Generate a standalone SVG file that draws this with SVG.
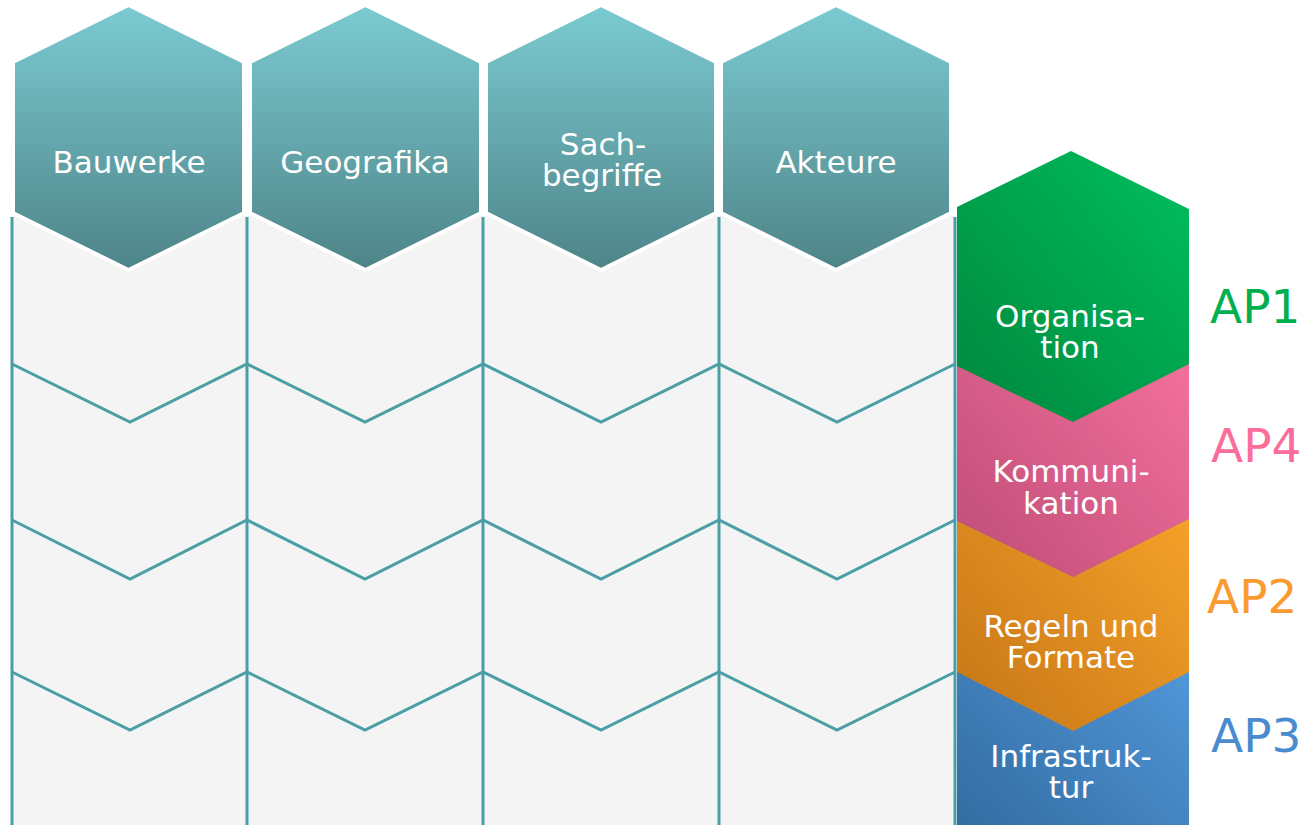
<svg xmlns="http://www.w3.org/2000/svg" width="1308" height="825" viewBox="0 0 1308 825">
<defs>
<linearGradient id="gTeal" x1="0" y1="0" x2="0" y2="1"><stop offset="0" stop-color="#7bcbd2"/><stop offset="1" stop-color="#4e8488"/></linearGradient>
<linearGradient id="gGreen" x1="1" y1="0" x2="0" y2="1"><stop offset="0" stop-color="#00bf5e"/><stop offset="1" stop-color="#00873d"/></linearGradient>
<linearGradient id="gPink" x1="1" y1="0" x2="0" y2="1"><stop offset="0" stop-color="#fa74a0"/><stop offset="1" stop-color="#bd4d77"/></linearGradient>
<linearGradient id="gOrange" x1="1" y1="0" x2="0" y2="1"><stop offset="0" stop-color="#fba72c"/><stop offset="1" stop-color="#c57516"/></linearGradient>
<linearGradient id="gBlue" x1="1" y1="0" x2="0" y2="1"><stop offset="0" stop-color="#569ee2"/><stop offset="1" stop-color="#336ca1"/></linearGradient>
</defs>
<style>
.cell{fill:#f4f4f4}
.grid{stroke:#4a9ea6;stroke-width:3;fill:none;stroke-linejoin:miter}
.hex{fill:url(#gTeal);stroke:#ffffff;stroke-width:4}
.lbl{font-family:"DejaVu Sans","Verdana",sans-serif;font-size:31px;fill:#ffffff;text-anchor:middle}
.ap{font-family:"DejaVu Sans","Verdana",sans-serif;font-size:47px}
</style>
<rect width="1308" height="825" fill="#ffffff"/>
<g id="cells">
<rect class="cell" x="12" y="216" width="943" height="609"/>
</g>
<g id="connectors">
<path class="grid" d="M12 217V825M247 217V825M483 217V825M719 217V825M955 217V825"/>
<path class="grid" d="M12 364L130 422L247 364L365 422L483 364L601 422L719 364L837 422L955 364"/>
<path class="grid" d="M12 520L130 579L247 520L365 579L483 520L601 579L719 520L837 579L955 520"/>
<path class="grid" d="M12 672L130 730L247 672L365 730L483 672L601 730L719 672L837 730L955 672"/>
</g>
<g id="bauwerke">
<polygon class="hex" points="128.5,5 244,62 244,213 128.5,270 13,213 13,62"/>
<text class="lbl" x="129" y="173">Bauwerke</text>
</g>
<g id="geografika">
<polygon class="hex" points="365.5,5 481,62 481,213 365.5,270 250,213 250,62"/>
<text class="lbl" x="365" y="173">Geografika</text>
</g>
<g id="sachbegriffe">
<polygon class="hex" points="601,5 716,62 716,213 601,270 486,213 486,62"/>
<text class="lbl" x="603" y="155">Sach-</text>
<text class="lbl" x="602" y="186">begriffe</text>
</g>
<g id="akteure">
<polygon class="hex" points="836,5 951,62 951,213 836,270 721,213 721,62"/>
<text class="lbl" x="836" y="173">Akteure</text>
</g>
<g id="infrastruktur">
<rect x="957" y="600" width="232" height="225" fill="url(#gBlue)"/>
<text class="lbl" x="1071" y="767">Infrastruk-</text>
<text class="lbl" x="1071" y="798">tur</text>
</g>
<g id="regeln">
<polygon points="957,450 1189,450 1189,672 1073,731 957,672" fill="url(#gOrange)"/>
<text class="lbl" x="1071" y="637">Regeln und</text>
<text class="lbl" x="1071" y="668">Formate</text>
</g>
<g id="kommunikation">
<polygon points="957,300 1189,300 1189,519 1073,577 957,521" fill="url(#gPink)"/>
<text class="lbl" x="1071" y="482">Kommuni-</text>
<text class="lbl" x="1071" y="514">kation</text>
</g>
<g id="organisation">
<polygon points="1071,151 1189,209 1189,364 1073,422 957,366 957,207" fill="url(#gGreen)"/>
<text class="lbl" x="1070" y="327">Organisa-</text>
<text class="lbl" x="1070" y="358">tion</text>
</g>
<g id="ap-labels">
<text class="ap" x="1210" y="323" fill="#00b050">AP1</text>
<text class="ap" x="1211" y="462" fill="#fb6e9b">AP4</text>
<text class="ap" x="1207" y="613" fill="#f99b31">AP2</text>
<text class="ap" x="1211" y="752" fill="#4a8bd0">AP3</text>
</g>
</svg>
